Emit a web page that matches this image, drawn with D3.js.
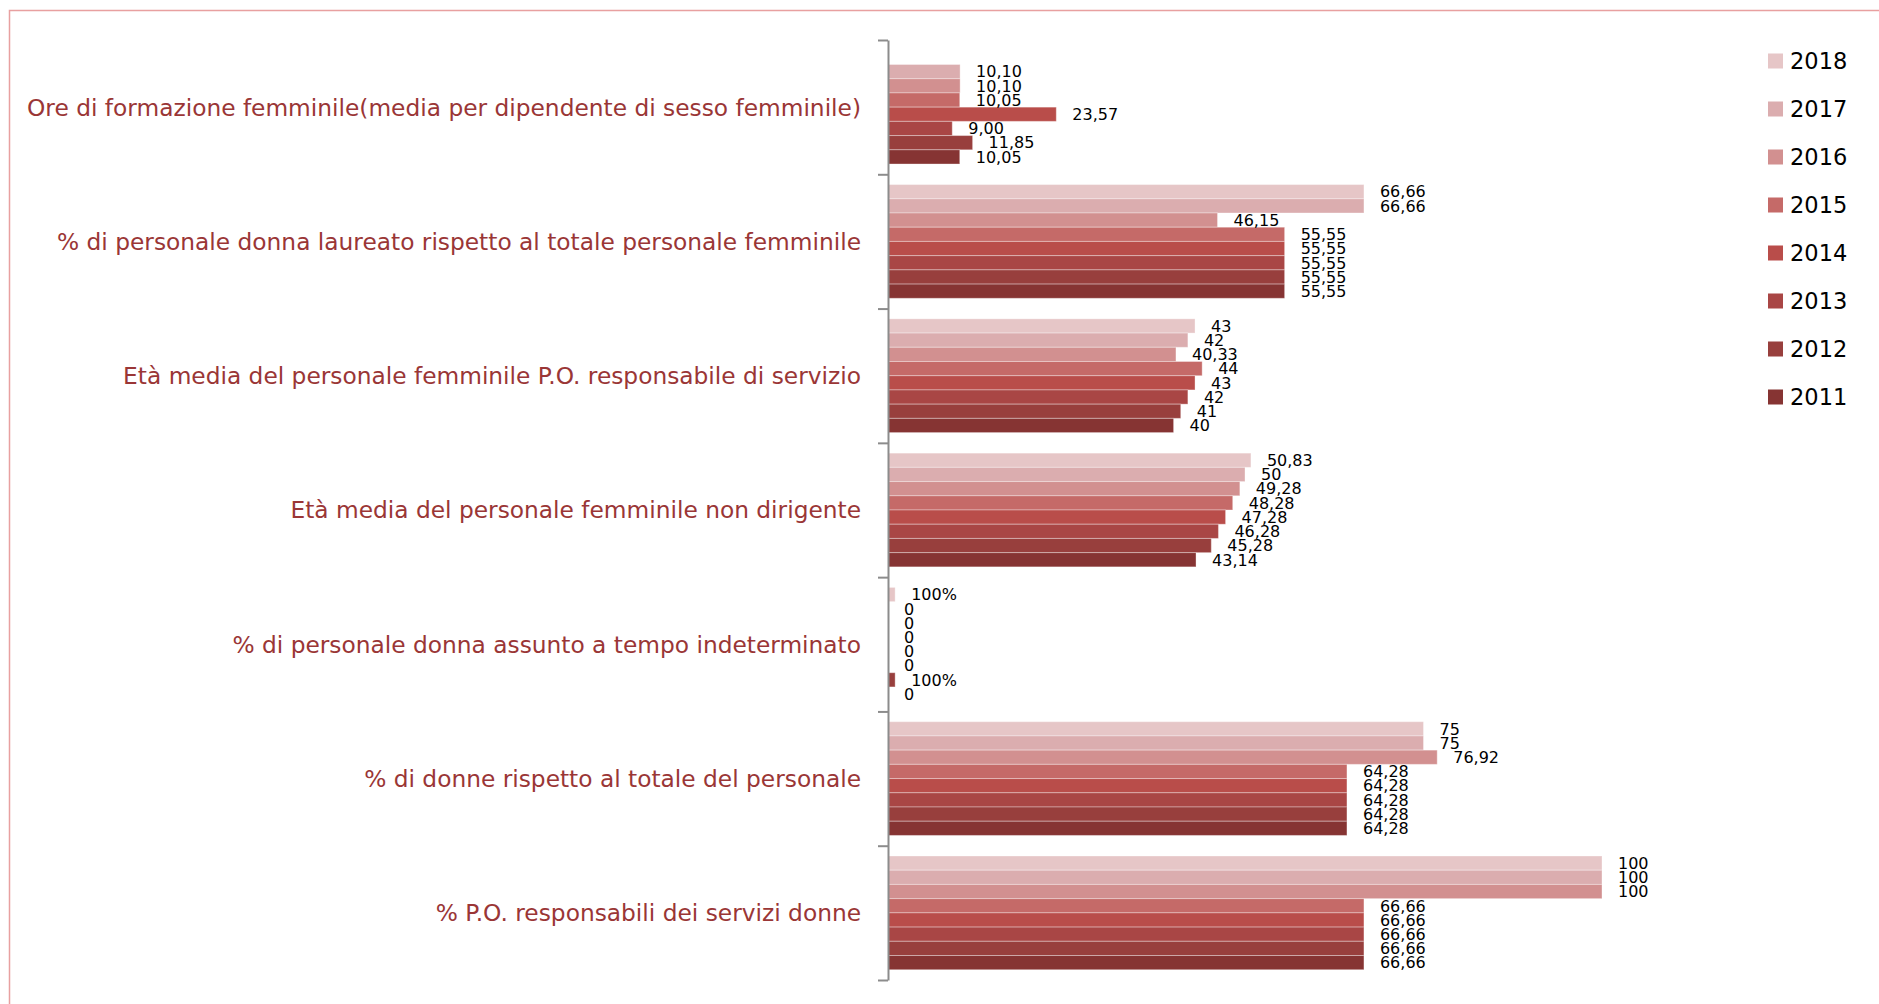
<!DOCTYPE html>
<html><head><meta charset="utf-8">
<script src="https://cdn.jsdelivr.net/npm/d3@7/dist/d3.min.js"></script>
<style>
html,body{margin:0;padding:0;background:#fff;overflow:hidden;}
svg{display:block;}
</style></head>
<body>
<svg id="chart" width="1879" height="1004"></svg>
<script>
const categories = [
  "Ore di formazione femminile(media per dipendente di sesso femminile)",
  "% di personale donna laureato rispetto al totale personale femminile",
  "Età media del personale femminile P.O. responsabile di servizio",
  "Età media del personale femminile non dirigente",
  "% di personale donna assunto a tempo indeterminato",
  "% di donne rispetto al totale del personale",
  "% P.O. responsabili dei servizi donne"
];
const years = ["2018","2017","2016","2015","2014","2013","2012","2011"];
const labelFormats = ["fixed2","auto","auto","auto","pct","auto","auto"];
const v2018 = [null, 66.66, 43, 50.83, 1, 75, 100];
const v2017 = [10.10, 66.66, 42, 50, 0, 75, 100];
const v2016 = [10.10, 46.15, 40.33, 49.28, 0, 76.92, 100];
const v2015 = [10.05, 55.55, 44, 48.28, 0, 64.28, 66.66];
const v2014 = [23.57, 55.55, 43, 47.28, 0, 64.28, 66.66];
const v2013 = [9.00, 55.55, 42, 46.28, 0, 64.28, 66.66];
const v2012 = [11.85, 55.55, 41, 45.28, 1, 64.28, 66.66];
const v2011 = [10.05, 55.55, 40, 43.14, 0, 64.28, 66.66];
const seriesValues = [v2018, v2017, v2016, v2015, v2014, v2013, v2012, v2011];
const colors = ["#e6c6c7","#dbadaf","#d29090","#c56a68","#b94d4a","#a94645","#983f3d","#863433"];

const svg = d3.select("#chart");

// frame
svg.append("rect").attr("x",9.5).attr("y",10.5).attr("width",1900).attr("height",1100)
  .attr("fill","none").attr("stroke","#e8a0a0").attr("stroke-width",1.5);

const y0 = 40, y1 = 980, xLeft = 888;
const yBand = d3.scaleBand().domain(categories).range([y0, y1]).paddingInner(0.153).paddingOuter(0.0765);
const yInner = d3.scaleBand().domain(years).range([0, yBand.bandwidth()]);
const x = d3.scaleLinear().domain([0, 100]).range([xLeft, 1602]);
const yIdx = d3.scaleLinear().domain([0, categories.length]).range([y0, y1]);

function fmt(v, f) {
  if (f === "pct") return v === 0 ? "0" : d3.format(".0%")(v);
  if (f === "fixed2") return v.toFixed(2).replace(".", ",");
  return String(+v.toFixed(2)).replace(".", ",");
}

// bars
const flat = [];
seriesValues.forEach((vals, si) => {
  vals.forEach((v, ci) => { if (v !== null) flat.push({si, ci, v}); });
});
const g = svg.append("g");
g.selectAll("rect.bar").data(flat).enter().append("rect")
  .attr("class","bar")
  .attr("x", x(0))
  .attr("y", d => yBand(categories[d.ci]) + yInner(years[d.si]))
  .attr("width", d => x(d.v) - x(0))
  .attr("height", yInner.bandwidth())
  .attr("fill", d => colors[d.si])
  .attr("stroke", "rgba(255,255,255,0.35)")
  .attr("stroke-width", 1);

g.selectAll("text.val").data(flat).enter().append("text")
  .attr("class","val")
  .attr("x", d => x(d.v) + 16)
  .attr("y", d => yBand(categories[d.ci]) + yInner(years[d.si]) + yInner.bandwidth()/2)
  .attr("dy","0.36em")
  .attr("font-family","DejaVu Sans")
  .attr("font-size","16px")
  .attr("fill","#000")
  .text(d => fmt(d.v, labelFormats[d.ci]));

// axis
const axis = d3.axisLeft(yIdx).tickValues(d3.range(categories.length + 1)).tickFormat("").tickSize(10).tickSizeOuter(0);
const ag = svg.append("g").attr("transform", `translate(${xLeft},0)`).call(axis);
ag.selectAll("path,line").attr("stroke","#8c8c8c").attr("stroke-width",2);

// category labels
svg.append("g").selectAll("text").data(categories).enter().append("text")
  .attr("x", 861)
  .attr("y", d => yBand(d) + yBand.bandwidth()/2)
  .attr("dy","0.36em")
  .attr("text-anchor","end")
  .attr("font-family","DejaVu Sans")
  .attr("font-size","23.3px")
  .attr("fill","#9a3636")
  .text(d => d);

// legend
const lg = svg.append("g");
const ly = d3.scaleLinear().domain([0, years.length - 1]).range([61, 397]);
years.forEach((yr, i) => {
  lg.append("rect").attr("x",1768).attr("y", ly(i) - 7.5).attr("width",15).attr("height",15).attr("fill", colors[i]);
  lg.append("text").attr("x",1790).attr("y", ly(i)).attr("dy","0.36em")
    .attr("font-family","DejaVu Sans").attr("font-size","22.5px").attr("fill","#000").text(yr);
});
</script>
</body></html>
